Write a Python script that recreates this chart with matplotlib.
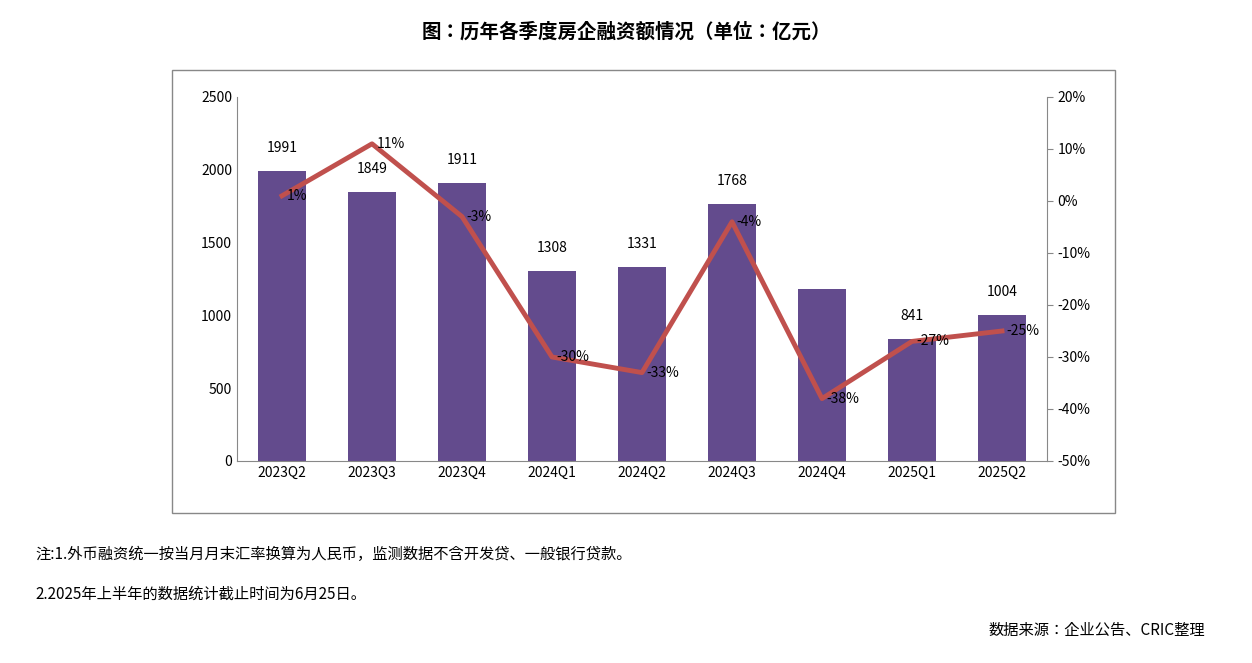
import matplotlib
matplotlib.use("Agg")
import matplotlib.pyplot as plt
from matplotlib import font_manager
from matplotlib.ticker import FuncFormatter
from matplotlib.patches import Rectangle

names = {f.name for f in font_manager.fontManager.ttflist}
cjk = [n for n in ["Noto Sans CJK SC", "Noto Sans CJK JP", "Noto Sans CJK TC", "Noto Sans CJK KR",
                   "Noto Sans SC", "Noto Sans CJK"] if n in names]
cjk += [n for n in names if "CJK" in n and n not in cjk]
plt.rcParams["font.family"] = "sans-serif"
plt.rcParams["font.sans-serif"] = cjk + ["DejaVu Sans"]
plt.rcParams["axes.unicode_minus"] = False

quarters = ["2023Q2","2023Q3","2023Q4","2024Q1","2024Q2","2024Q3","2024Q4","2025Q1","2025Q2"]
amounts = [1991, 1849, 1911, 1308, 1331, 1768, 1180, 841, 1004]
amount_labels = ["1991","1849","1911","1308","1331","1768","","841","1004"]
growth = [1, 11, -3, -30, -33, -4, -38, -27, -25]

fig = plt.figure(figsize=(12.52, 6.63), dpi=100)
fig.patches.append(Rectangle((172/1252, 1-513/663), (1115-172)/1252, (513-70)/663,
                             transform=fig.transFigure, fill=False, ec="#888888", lw=1))
ax = fig.add_axes([237/1252, 1-461/663, (1047-237)/1252, (461-97)/663])
x = range(len(quarters))
ax.bar(x, amounts, width=0.53, color="#634b8d")
ax.set_ylim(0, 2500)
ax.set_xlim(-0.5, len(quarters)-0.5)
ax.set_yticks(range(0, 2501, 500))
ax.set_xticks(list(x))
ax.set_xticklabels(quarters, fontsize=10)
for i, (v, l) in enumerate(zip(amounts, amount_labels)):
    if l:
        ax.text(i, v + 110, l, ha="center", va="bottom", fontsize=10)
for s in ["top", "right"]:
    ax.spines[s].set_visible(False)
ax.tick_params(axis="y", length=0, labelsize=10)
ax.tick_params(axis="x", length=0, labelsize=10)
ax.spines["left"].set_color("#888888")
ax.spines["bottom"].set_color("#888888")

ax2 = ax.twinx()
ax2.plot(list(x), growth, color="#c0504d", lw=3.5)
ax2.set_ylim(-50, 20)
ax2.set_yticks(range(-50, 21, 10))
ax2.yaxis.set_major_formatter(FuncFormatter(lambda v, p: f"{int(v)}%"))
ax2.tick_params(axis="y", labelsize=10, direction="out", length=4, color="#888888")
for s in ["top", "left", "bottom"]:
    ax2.spines[s].set_visible(False)
ax2.spines["right"].set_color("#888888")
for i, g in enumerate(growth):
    ax2.text(i + 0.05, g, f"{g}%", ha="left", va="center", fontsize=10)

fig.text(0.5, 1-32/663, "图：历年各季度房企融资额情况（单位：亿元）", ha="center", va="center",
         fontsize=14, fontweight="bold")
fig.text(35/1252, 1-554/663, "注:1.外币融资统一按当月月末汇率换算为人民币，监测数据不含开发贷、一般银行贷款。",
         fontsize=11, va="center")
fig.text(35/1252, 1-594/663, "2.2025年上半年的数据统计截止时间为6月25日。", fontsize=11, va="center")
fig.text(1205/1252, 1-630/663, "数据来源：企业公告、CRIC整理", fontsize=11, va="center", ha="right")

fig.savefig("out.png", dpi=100)
